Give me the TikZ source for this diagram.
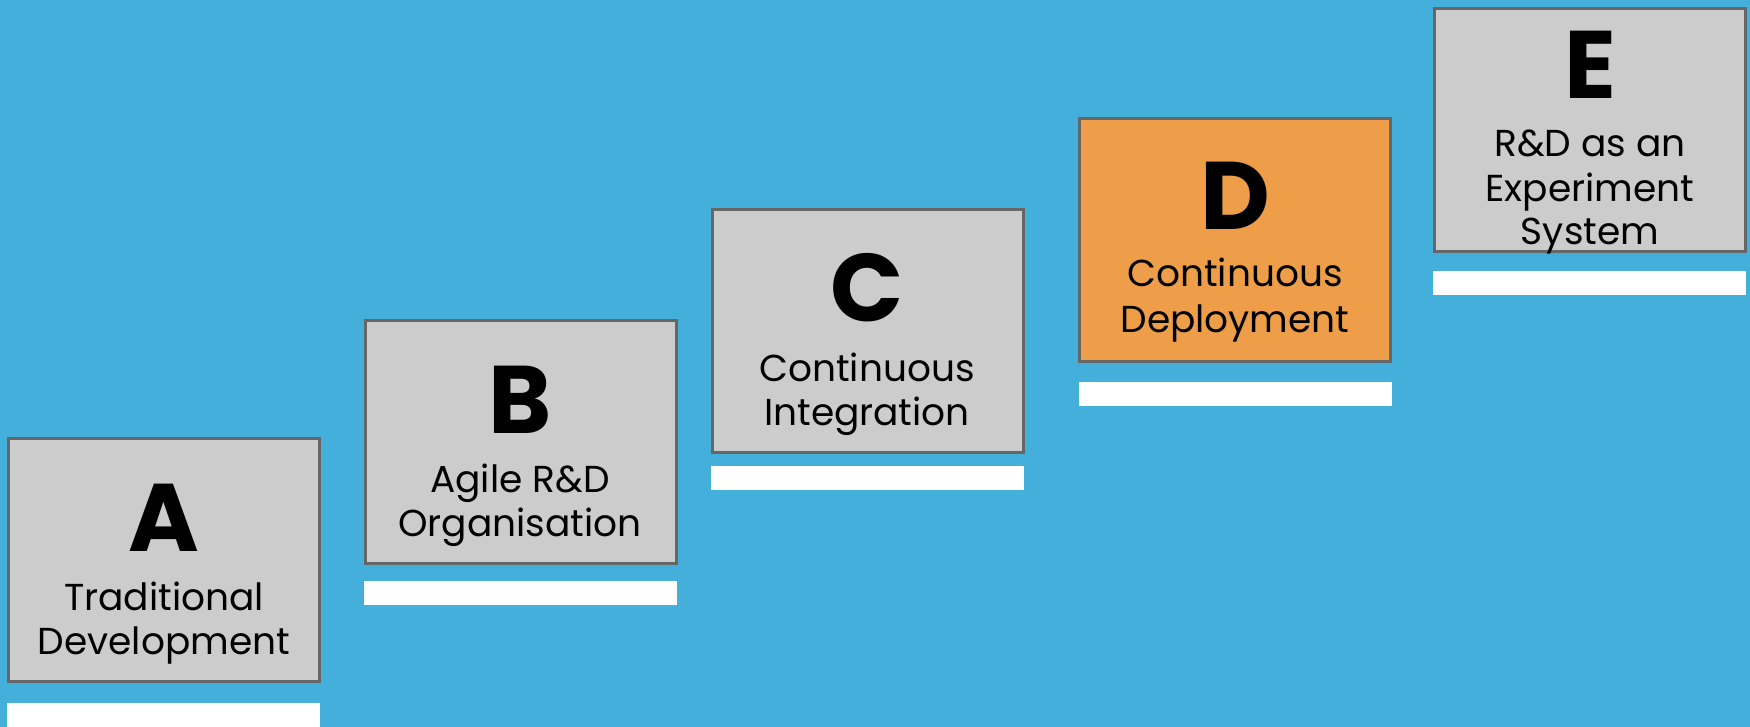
\documentclass[tikz,border=0pt]{standalone}
\usepackage{fontspec}
\setmainfont{Poppins}
\newfontfamily\stagebold{Poppins}[UprightFont=* Bold]
\definecolor{skyblue}{RGB}{69,175,220}
\definecolor{stagegrey}{RGB}{204,204,204}
\definecolor{edgegrey}{RGB}{102,102,102}
\definecolor{stageorange}{RGB}{238,158,72}
\tikzset{
  stagebox/.style={draw=edgegrey, line width=3pt, fill=stagegrey,
    minimum width=311pt, minimum height=243pt, anchor=north west, inner sep=0pt},
  hilite/.style={fill=stageorange},
  shelf/.style={fill=white, draw=none, minimum width=313pt, minimum height=24pt,
    anchor=north west, inner sep=0pt, outer sep=0pt},
  letter/.style={anchor=base, inner sep=0pt, font=\stagebold\fontsize{96}{96}\selectfont},
  caption/.style={anchor=base, inner sep=0pt, font=\fontsize{37.5}{40}\selectfont}
}
\begin{document}
\begin{tikzpicture}[x=1pt,y=-1pt]
  \fill[skyblue] (0,0) rectangle (1750,727);
  \useasboundingbox (0,0) rectangle (1750,727);

  % stage A
  \node[stagebox] (boxA) at (7,437) {};
  \node[shelf] (shelfA) at (7,703) {};
  \node[letter] (letA) at (164,551) {A};
  \node[caption] (capA1) at (164,610) {Traditional};
  \node[caption] (capA2) at (164,654) {Development};

  % stage B
  \node[stagebox] (boxB) at (364,319) {};
  \node[shelf] (shelfB) at (364,581) {};
  \node[letter] (letB) at (520,433) {B};
  \node[caption] (capB1) at (520,492) {Agile R\&D};
  \node[caption] (capB2) at (520,536) {Organisation};

  % stage C
  \node[stagebox] (boxC) at (711,208) {};
  \node[shelf] (shelfC) at (711,466) {};
  \node[letter] (letC) at (867,321) {C};
  \node[caption] (capC1) at (867,381) {Continuous};
  \node[caption] (capC2) at (867,425) {Integration};

  % stage D (highlighted)
  \node[stagebox,hilite] (boxD) at (1078,117) {};
  \node[shelf] (shelfD) at (1079,382) {};
  \node[letter] (letD) at (1235,230) {D};
  \node[caption] (capD1) at (1235,287) {Continuous};
  \node[caption] (capD2) at (1235,332) {Deployment};

  % stage E
  \node[stagebox] (boxE) at (1433,7) {};
  \node[shelf] (shelfE) at (1433,271) {};
  \node[letter] (letE) at (1590,99) {E};
  \node[caption] (capE1) at (1590,157) {R\&D as an};
  \node[caption] (capE2) at (1590,202) {Experiment};
  \node[caption] (capE3) at (1590,245) {System};
\end{tikzpicture}
\end{document}
